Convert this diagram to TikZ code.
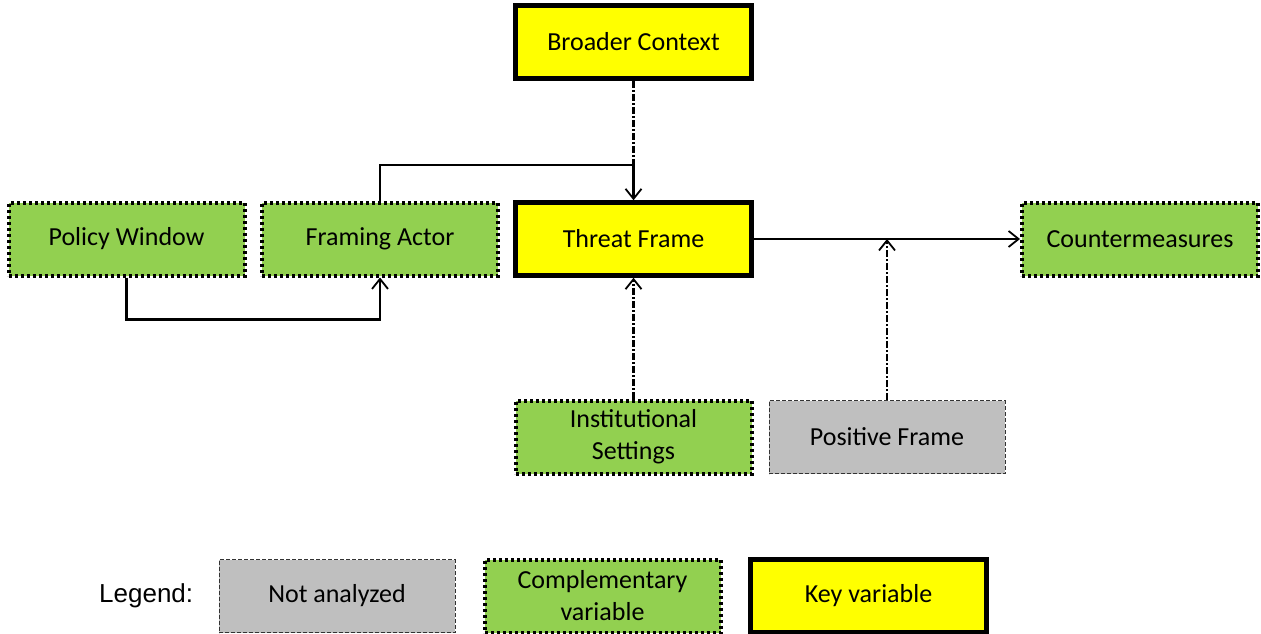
\documentclass[tikz,border=0pt]{standalone}
\usepackage{fontspec}
\setmainfont{Carlito}
\newfontfamily\legendfont{Liberation Sans}
\usetikzlibrary{arrows.meta}
\definecolor{keyyellow}{HTML}{FFFF00}
\definecolor{compgreen}{HTML}{92D050}
\definecolor{nagray}{HTML}{BFBFBF}
\tikzset{
  base/.style={minimum width=236pt, minimum height=73pt, inner sep=0pt, align=center,
    font=\fontsize{26}{32}\selectfont},
  keyvar/.style={base, fill=keyyellow, draw=black, line width=4.5pt},
  compvar/.style={base, fill=compgreen, draw=black, line width=4pt, dash pattern=on 3pt off 3pt},
  notan/.style={base, fill=nagray, draw=black!80, line width=1pt, dash pattern=on 4pt off 2pt},
  conn/.style={line width=2.5pt, -{Straight Barb[length=10pt,width=16pt,line width=1.8pt]}},
  dashdot/.style={dash pattern=on 7pt off 2pt on 2pt off 2pt},
}
\begin{document}
\begin{tikzpicture}[x=1pt,y=-1pt]
\useasboundingbox (0,0) rectangle (1261,634);
\node[keyvar] (bc) at (633.5,42) {Broader Context};
\node[keyvar] (tf) at (633.5,239) {Threat Frame};
\node[compvar] (pw) at (126.5,239) {Policy Window};
\node[compvar] (fa) at (380,239) {Framing Actor};
\node[compvar] (cm) at (1140,239) {Countermeasures};
\node[compvar] (is) at (633.5,437) {Institutional\\Settings};
\node[notan] (pf) at (887,437) {Positive Frame};
\node[font=\legendfont\fontsize{26}{30}\selectfont, anchor=west, inner sep=0pt] (lg) at (99,596) {Legend:};
\node[notan] (l1) at (337,596) {Not analyzed};
\node[compvar] (l2) at (602.5,596) {Complementary\\variable};
\node[keyvar] (l3) at (868.5,596) {Key variable};
\coordinate (j1) at (633.5,165);
\coordinate (j2) at (887,239);
\draw[line width=2.5pt, dashdot] (bc.south) -- (j1);
\draw[conn] (j1) -- (tf.north);
\draw[line width=2.5pt] (fa.north) |- (j1);
\draw[conn] (pw.south) -- ++(0,42) -| (fa.south);
\draw[conn] (tf.east) -- (cm.west);
\draw[conn, dashdot] (is.north) -- (tf.south);
\draw[conn, dashdot] (pf.north) -- (j2);
\end{tikzpicture}
\end{document}
